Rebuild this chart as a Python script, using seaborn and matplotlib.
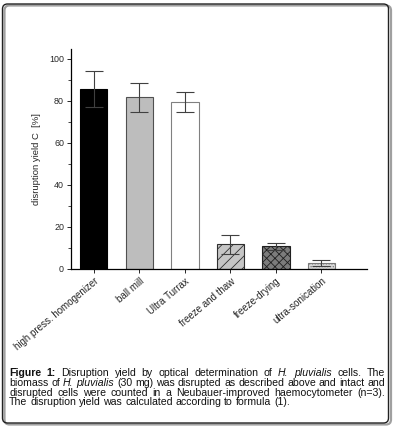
import pandas as pd
import seaborn as sns
import matplotlib.pyplot as plt
from matplotlib.patches import FancyBboxPatch
from matplotlib.ticker import MultipleLocator
from matplotlib.transforms import IdentityTransform

# values
methods = ["high press. homogenizer", "ball mill", "Ultra Turrax",
           "freeze and thaw", "freeze-drying", "ultra-sonication"]
yield_mean = [85.6, 81.9, 79.5, 11.7, 10.8, 2.7]
yield_err = [8.5, 6.9, 4.7, 4.7, 1.6, 1.5]
y_ticks = [0, 20, 40, 60, 80, 100]

face_colors = ["#000000", "#bdbdbd", "#ffffff", "#c6c6c6", "#7c7c7c", "#d9d9d9"]
edge_colors = ["#000000", "#505050", "#808080", "#303030", "#202020", "#7a7a7a"]
hatches = ["", "", "", "///", "xxxx", "......"]

caption_lines = [
    [("Figure 1:", "bold", "normal"),
     ("Disruption yield by optical determination of", "normal", "normal"),
     ("H. pluvialis", "normal", "italic"),
     ("cells. The", "normal", "normal")],
    [("biomass of", "normal", "normal"),
     ("H. pluvialis", "normal", "italic"),
     ("(30 mg) was disrupted as described above and intact and", "normal", "normal")],
    [("disrupted cells were counted in a Neubauer-improved haemocytometer (n=3).", "normal", "normal")],
    [("The disruption yield was calculated according to formula (1).", "normal", "normal")],
]

W, H = 395, 426
sns.set_style("ticks")
plt.rcParams["font.family"] = ["Liberation Sans", "DejaVu Sans"]
plt.rcParams["hatch.linewidth"] = 0.6

fig = plt.figure(figsize=(W / 100, H / 100), dpi=100)
ax = fig.add_axes([71 / W, 1 - 269 / H, 296 / W, 220.5 / H])

df = pd.DataFrame({"method": methods, "yield": yield_mean})
sns.barplot(data=df, x="method", y="yield", hue="method", palette=face_colors,
            saturation=1, width=0.6, errorbar=None, legend=False, ax=ax)

bars = sorted(ax.patches, key=lambda p: p.get_x())
for bar, ec, hatch in zip(bars, edge_colors, hatches):
    bar.set_edgecolor(ec)
    bar.set_linewidth(0.8)
    if hatch:
        bar.set_hatch(hatch)

ax.errorbar(range(len(methods)), yield_mean, yerr=yield_err, fmt="none",
            ecolor="#404040", elinewidth=0.8, capsize=6.5, capthick=0.8, zorder=5)

ax.set_xlim(-0.5, 6.0)
ax.set_ylim(0, 105)
sns.despine(ax=ax)
for s in ["left", "bottom"]:
    ax.spines[s].set_linewidth(0.9)
    ax.spines[s].set_color("black")

ax.set_yticks(y_ticks)
ax.yaxis.set_minor_locator(MultipleLocator(10))
ax.tick_params(axis="y", which="major", length=3, width=0.7, labelsize=6.4, pad=2)
ax.tick_params(axis="y", which="minor", length=2, width=0.6)
ax.set_xticks(range(len(methods)))
ax.set_xticklabels(methods, rotation=40, ha="right", rotation_mode="anchor", fontsize=7)
ax.tick_params(axis="x", length=3, width=0.7, pad=2)
ax.set_xlabel("")
ax.set_ylabel("disruption yield C  [%]", fontsize=6.8)
ax.yaxis.set_label_coords(-0.101, 0.5)

# caption, justified line by line
renderer = fig.canvas.get_renderer()
left_px, right_px = 9, 385
baselines = [376, 385.8, 395.6, 405.4]

# font size so the widest line fits with ordinary word spaces
widest = 0
for line in caption_lines[:-1]:
    full = " ".join(text for text, _, _ in line)
    probe = fig.text(0, 0, full, fontsize=10)
    widest = max(widest, probe.get_window_extent(renderer).width)
    probe.remove()
cap_size = 10 * 374 / widest

probe = fig.text(0, 0, "a a", fontsize=cap_size)
probe2 = fig.text(0, 0, "aa", fontsize=cap_size)
space_w = probe.get_window_extent(renderer).width - probe2.get_window_extent(renderer).width
probe.remove()
probe2.remove()

for i, line in enumerate(caption_lines):
    items = []
    for text, weight, style in line:
        for w in text.split(" "):
            t = fig.text(0, 0, w, fontsize=cap_size, fontweight=weight, fontstyle=style,
                         color="#111111", va="baseline", ha="left")
            items.append((t, t.get_window_extent(renderer).width))
    total = sum(wd for _, wd in items)
    if i < len(caption_lines) - 1:
        gap = max((right_px - left_px - total) / (len(items) - 1), space_w * 0.8)
    else:
        gap = space_w
    x = left_px
    for t, wd in items:
        t.set_position((x / W, 1 - baselines[i] / H))
        x += wd + gap

# frame round the whole figure
shadow = FancyBboxPatch((4.5, 1.5), 386.5, 419, boxstyle="round,pad=0,rounding_size=5",
                        transform=IdentityTransform(), facecolor="none",
                        edgecolor="#a0a0a0", linewidth=1.6)
frame = FancyBboxPatch((2.5, 3), 386, 419, boxstyle="round,pad=0,rounding_size=5",
                       transform=IdentityTransform(), facecolor="none",
                       edgecolor="#222222", linewidth=1.0)
fig.patches.extend([shadow, frame])

fig.savefig("out.png", dpi=100)
